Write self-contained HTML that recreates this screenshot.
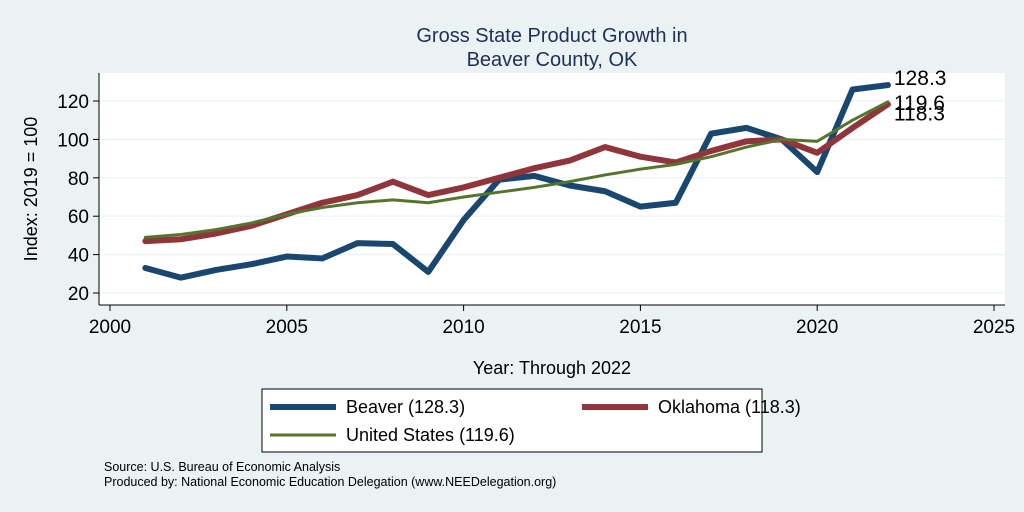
<!DOCTYPE html>
<html><head><meta charset="utf-8"><style>
body{margin:0;background:#eaf2f3;font-family:"Liberation Sans",sans-serif}
svg{display:block}
</style></head><body>
<svg width="1024" height="512" id="c" font-family="Liberation Sans, sans-serif">
<rect width="1024" height="512" fill="#eaf2f3"/>
<text x="552" y="42" text-anchor="middle" font-size="20" fill="#1e2f58">Gross State Product Growth in</text>
<text x="552" y="66" text-anchor="middle" font-size="20" fill="#1e2f58">Beaver County, OK</text>
<rect x="99" y="73" width="906" height="232" fill="#fff"/>
<g id="grid"></g><g id="axes"></g><g id="lines"></g>
<text x="37" y="189" font-size="18" text-anchor="middle" transform="rotate(-90 37 189)">Index: 2019 = 100</text>
<text x="552" y="374" font-size="18" text-anchor="middle">Year: Through 2022</text>
<g>
<rect x="262" y="389" width="500" height="63" fill="#fff" stroke="#000" stroke-width="1"/>
<line x1="270" y1="407" x2="336" y2="407" stroke="#1a476f" stroke-width="6"/>
<text x="346" y="413" font-size="18">Beaver  (128.3)</text>
<line x1="582" y1="407" x2="648" y2="407" stroke="#90353b" stroke-width="6"/>
<text x="658" y="413" font-size="18">Oklahoma (118.3)</text>
<line x1="270" y1="435" x2="336" y2="435" stroke="#55752f" stroke-width="3"/>
<text x="346" y="441" font-size="18">United States (119.6)</text>
</g>
<text x="104" y="471" font-size="12.5">Source: U.S. Bureau of Economic Analysis</text>
<text x="104" y="486" font-size="12.5">Produced by: National Economic Education Delegation (www.NEEDelegation.org)</text>
</svg>
<script>
const years=[2001,2002,2003,2004,2005,2006,2007,2008,2009,2010,2011,2012,2013,2014,2015,2016,2017,2018,2019,2020,2021,2022];
const beaver=[33,28,32,35,39,38,46,45.5,31,58,79,81,76,73,65,67,103,106,100,83,126,128.3];
const oklahoma=[47,48,51,55,61,67,71,78,71,75,80,85,89,96,91,88,94,99,100,93,106,118.3];
const us=[49,50.5,53,56.5,61,64.5,67,68.5,67,70,72.5,75,78,81.5,84.5,87,91,96,100,99,110,119.6];
const yTicks=[20,40,60,80,100,120];
const xTicks=[2000,2005,2010,2015,2020,2025];
const NS="http://www.w3.org/2000/svg";
const xs=v=>110+(v-2000)*(994-110)/25;
const ys=v=>293-(v-20)*1.92;
function mk(t,a,p){const e=document.createElementNS(NS,t);for(const k in a)e.setAttribute(k,a[k]);p.appendChild(e);return e;}
const grid=document.getElementById('grid'),axes=document.getElementById('axes'),lines=document.getElementById('lines');
mk('line',{x1:99,y1:73,x2:99,y2:305,stroke:'#000'},axes);
mk('line',{x1:99,y1:305,x2:1005,y2:305,stroke:'#000'},axes);
yTicks.forEach(v=>{
const g=mk('line',{x1:99,x2:1005,y1:ys(v),y2:ys(v),stroke:'#eaf2f3','stroke-width':1.2},grid);


mk('line',{x1:93,x2:99,y1:ys(v),y2:ys(v),stroke:'#000'},axes);
const t=mk('text',{x:89,y:ys(v)+7,'text-anchor':'end','font-size':19},axes);t.textContent=v;


});
xTicks.forEach(v=>{
mk('line',{x1:xs(v),x2:xs(v),y1:305,y2:311,stroke:'#000'},axes);
const t=mk('text',{x:xs(v),y:333,'text-anchor':'middle','font-size':19},axes);t.textContent=v;


});
function series(d,c,w,name){
const p=mk('polyline',{points:d.map((v,i)=>xs(years[i])+','+ys(v)).join(' '),fill:'none',stroke:c,'stroke-width':w,'stroke-linejoin':'round','stroke-linecap':'round'},lines);


}
series(beaver,'#1a476f',6,'line-beaver');
series(oklahoma,'#90353b',6,'line-oklahoma');
series(us,'#55752f',3,'line-united-states');
function lab(d,dy,name){const n=d.length-1;
const t=mk('text',{x:xs(years[n])+6,y:ys(d[n])+dy,'font-size':21},lines);t.textContent=d[n];

}
lab(beaver,0,'label-beaver');lab(us,8,'label-united-states');lab(oklahoma,16,'label-oklahoma');
</script>
</body></html>
